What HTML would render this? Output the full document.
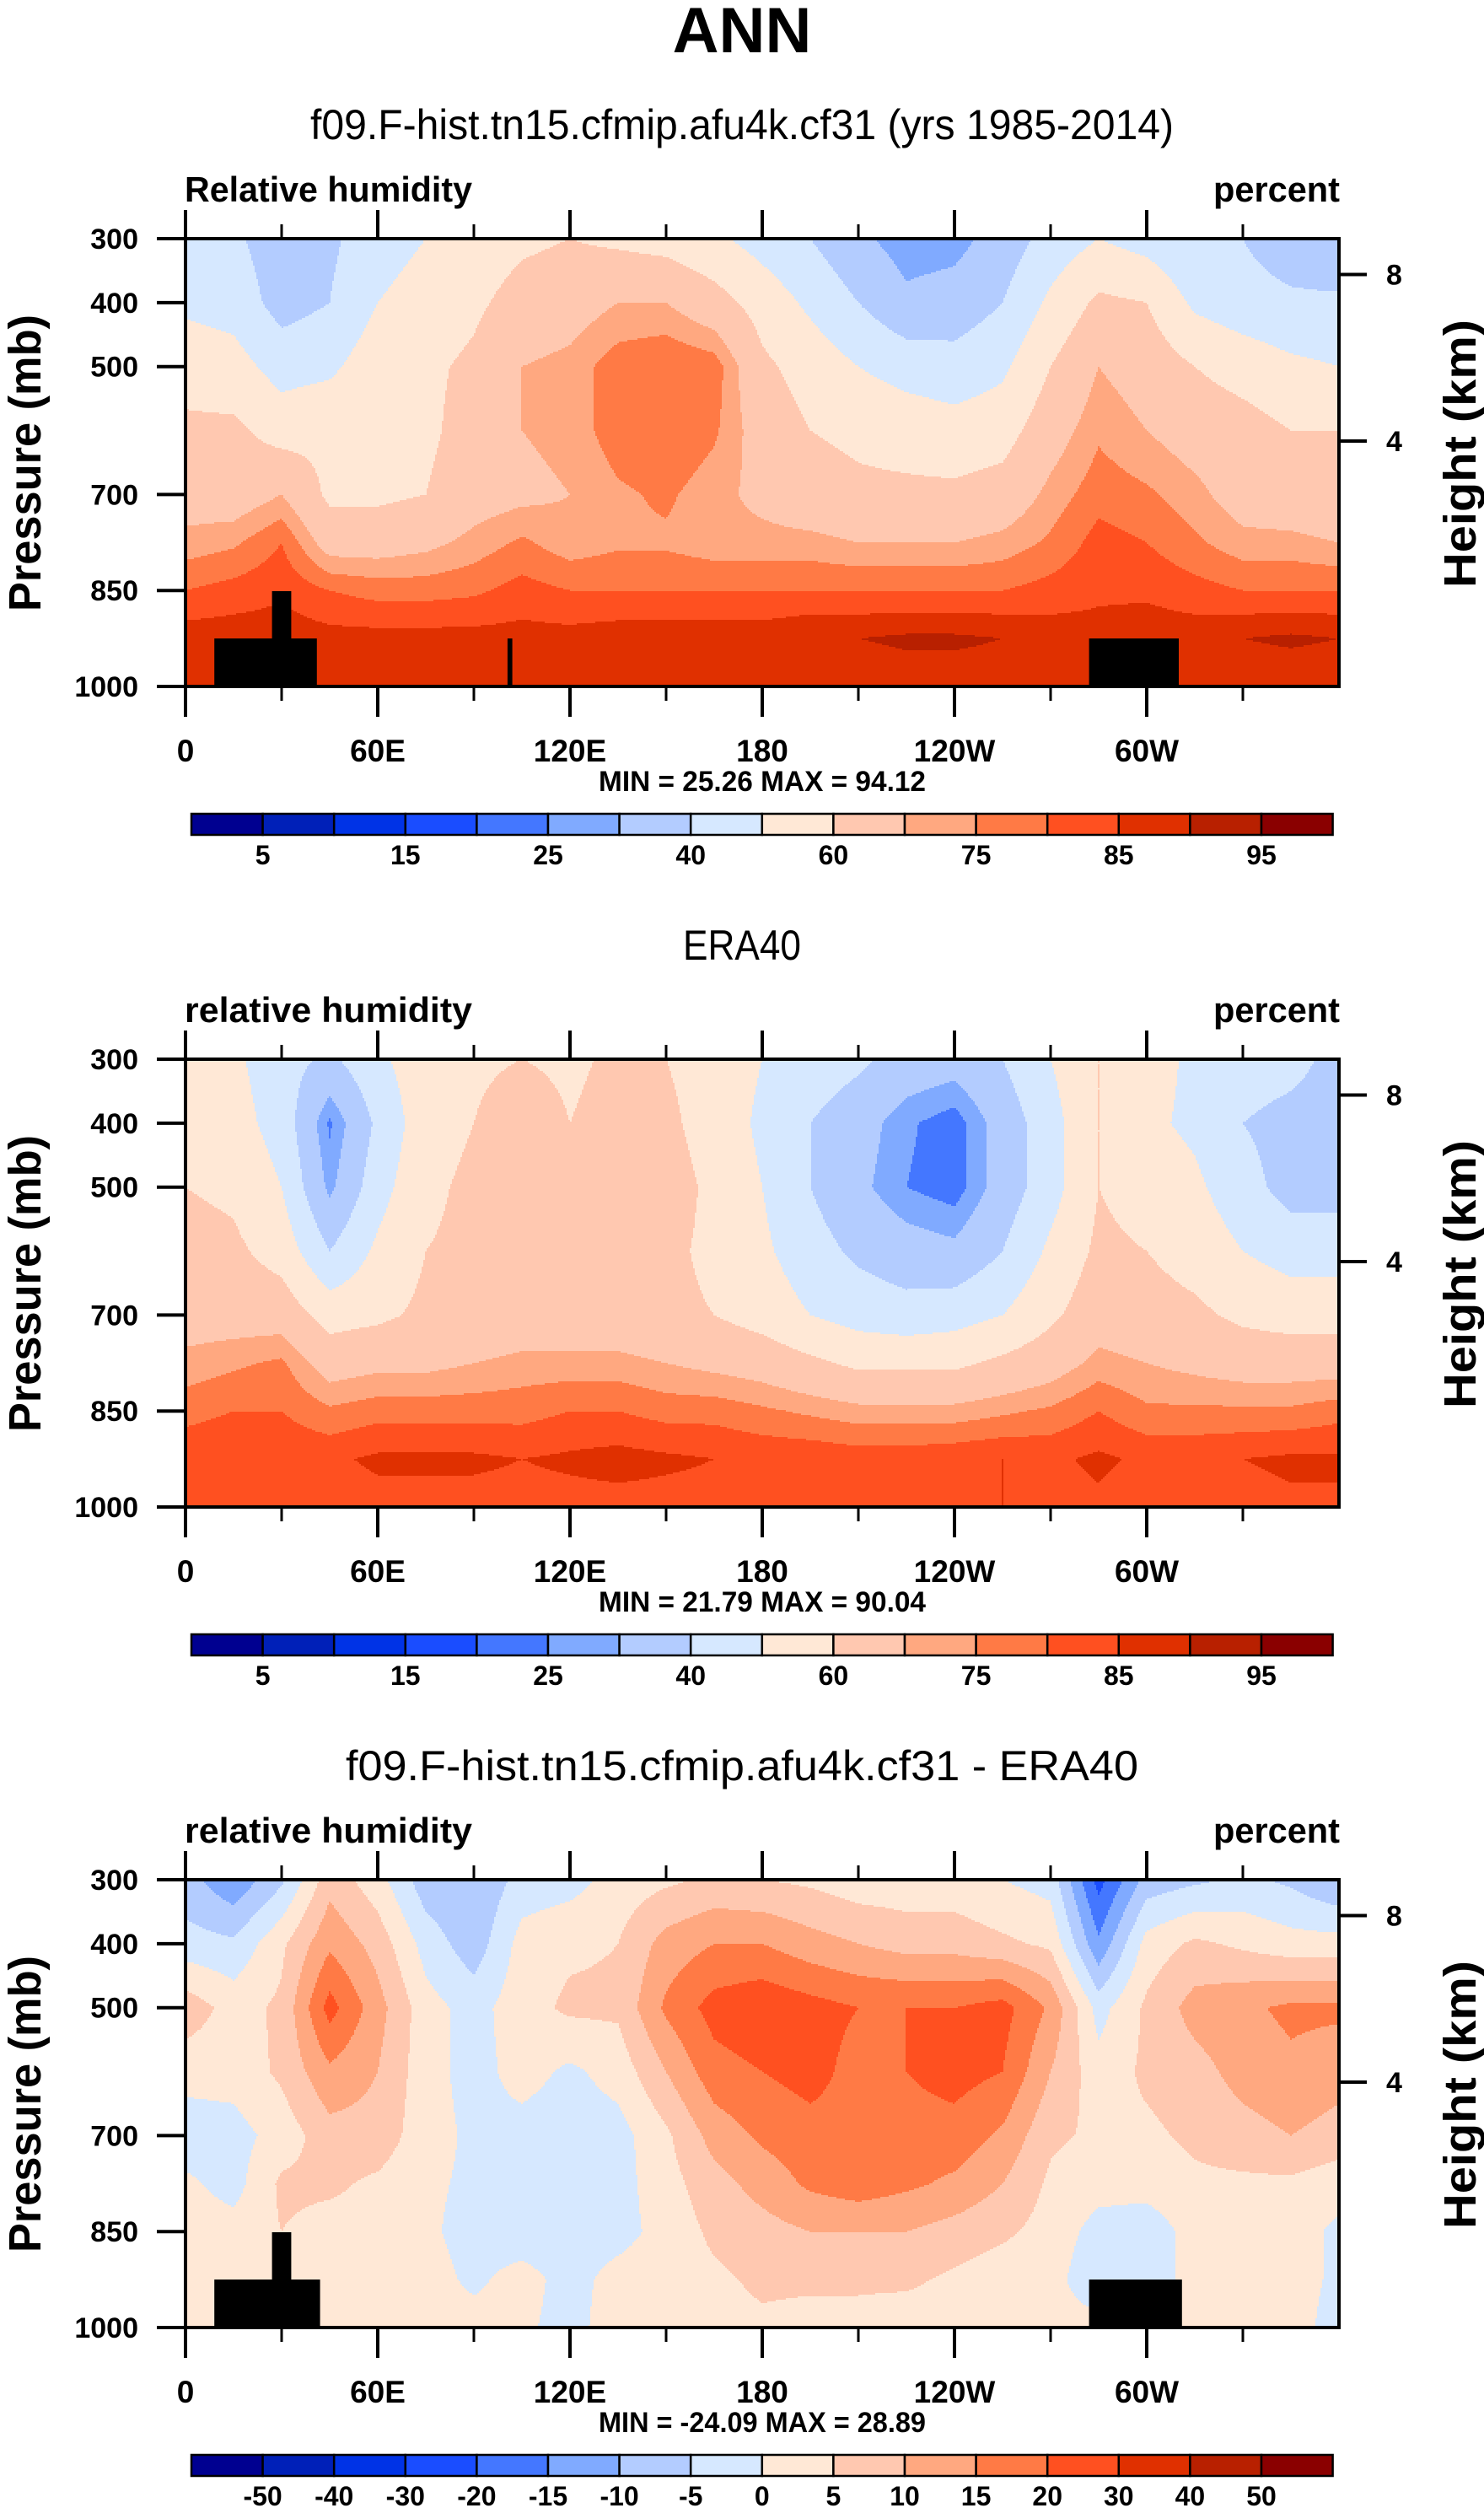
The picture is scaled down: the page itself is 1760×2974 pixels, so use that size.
<!DOCTYPE html>
<html><head><meta charset="utf-8">
<style>
html,body{margin:0;padding:0;background:#fff;}
svg{display:block;}
text{font-family:"Liberation Sans",Arial,sans-serif;fill:#000;}
.b{font-weight:bold;}
</style></head>
<body>
<svg id="fig" xmlns="http://www.w3.org/2000/svg" width="1760" height="2974" viewBox="0 0 1760 2974">
<text class="b" x="880" y="62" font-size="76" text-anchor="middle">ANN</text>
</svg>
<script>
// ---- data ----
const lons = [0,15,30,45,60,75,90,105,120,135,150,165,180,195,210,225,240,255,270,285,300,315,330,345,360];
const levels = [300,400,500,600,700,775,850,925,1000];
const modelRH = [
[44,48,56,62,66,72,80,88,85],[42,46,54,62,65,74,82,88,85],[34,36,46,56,70,80,84,88,85],[38,40,48,58,58,66,80,87,85],
[46,50,56,58,58,66,78,87,85],[50,54,58,58,60,68,78,87,85],[54,58,62,64,66,72,79,87,85],[58,64,70,70,68,76,82,87,85],
[60,66,72,72,70,72,80,87,85],[58,70,78,78,74,74,80,88,85],[56,70,80,80,76,74,80,88,85],[52,64,78,76,72,72,80,88,85],
[46,56,62,66,68,72,80,88,86],[40,48,56,60,64,72,80,90,86],[32,40,50,58,62,70,80,90,86],[26,32,46,56,62,70,80,91,87],
[27,34,44,54,62,70,80,91,87],[34,40,48,56,64,72,80,90,87],[44,52,60,66,72,76,82,88,86],[50,62,70,74,78,82,84,87,86],
[46,60,66,70,76,80,84,88,86],[40,48,60,66,72,76,82,88,86],[40,44,56,64,66,72,80,90,86],[34,42,52,60,64,72,80,91,86],
[30,42,50,60,62,70,80,90,86]];
const eraRH = [
[55,56,60,64,66,72,78,84,82],[52,54,58,62,66,74,80,85,82],[44,46,50,56,66,76,80,84,82],[38,24,28,40,56,66,76,84,82],
[48,42,46,52,58,68,78,86,83],[56,56,58,60,62,68,78,86,83],[58,60,62,62,62,70,78,86,83],[60,66,64,64,64,72,78,85,83],
[58,60,62,62,64,72,80,86,83],[62,64,66,64,64,72,80,87,83],[60,62,64,62,62,70,78,86,83],[56,56,58,58,60,68,78,85,83],
[50,48,50,52,56,66,76,84,83],[46,40,40,44,50,62,74,84,83],[42,34,32,38,46,58,72,83,83],[36,26,25,34,44,58,72,83,83],
[34,22,22,32,46,58,72,84,84],[40,34,34,40,50,62,74,85,85],[50,46,46,52,58,66,76,84,83],[60,60,60,62,66,72,80,86,84],
[54,52,56,60,64,70,76,84,82],[48,48,52,56,62,68,76,84,83],[46,40,44,50,58,66,76,85,83],[44,36,36,46,56,66,76,86,84],
[36,34,36,46,56,66,78,86,84]];
const diffRH = [
[-8,-3,8,2,-3,1,3,2,2],[-14,-4,3,2,-2,-2,2,2,1],[-6,4,6,6,2,6,5,2,2],[8,14,22,14,8,6,3,2,1],
[2,8,12,10,8,4,3,2,2],[-8,-2,2,2,2,1,1,2,2],[-10,-8,-2,-2,-1,-1,-2,-1,2],[-3,2,3,2,-2,-3,-3,2,1],
[-2,4,6,-1,-3,-3,-3,-2,-2],[2,5,6,2,-2,-2,-2,2,3],[4,12,16,10,4,3,2,3,3],[6,15,22,18,12,8,6,4,3],
[5,15,24,20,16,12,8,6,4],[4,12,22,22,18,16,10,6,3],[2,10,20,18,18,18,10,6,3],[2,8,20,20,18,16,10,6,2],
[2,8,20,22,18,14,8,4,2],[0,6,22,20,14,10,6,2,1],[-2,4,14,10,6,4,3,2,2],[-22,-14,-2,2,4,2,-2,-4,2],
[-8,2,6,6,4,2,-3,-3,1],[-6,6,12,8,6,4,2,2,2],[-4,4,14,12,8,4,2,3,2],[-6,2,16,14,10,4,2,2,2],
[-10,2,16,12,8,2,-1,-1,-2]];
const rhBounds = [5,10,15,20,25,30,40,50,60,70,75,80,85,90,95];
const rhLabels = ["5","","15","","25","","40","","60","","75","","85","","95"];
const diffBounds = [-50,-40,-30,-20,-15,-10,-5,0,5,10,15,20,30,40,50];
const diffLabels = ["-50","-40","-30","-20","-15","-10","-5","0","5","10","15","20","30","40","50"];
const palette = ["#000090","#0020b8","#0033e6","#1a4dff","#4477ff","#80aaff","#b3ccff","#d6e8ff","#ffe8d6","#ffc8b0","#ffa880","#ff7a45","#ff5020","#e03000","#b82000","#8a0000"];
const xTickLons = [0,60,120,180,240,300];
const xTickLabels = ["0","60E","120E","180","120W","60W"];
const xMinorLons = [30,90,150,210,270,330];
const pTicks = [300,400,500,700,850,1000];
const hTicks = [8,4];
// land mask rectangles: [lonStart, lonEnd, pressureTop]
const landA = [[9,41,925],[27,33,851],[100.5,102,925],[282,310,925]];
const landC = [[9,42,925],[27,33,851],[282,311,925]];
const panels = [
 {sub:"f09.F-hist.tn15.cfmip.afu4k.cf31 (yrs 1985-2014)", subW:1024, left:"Relative humidity", data:modelRH, bounds:rhBounds, labels:rhLabels, minmax:"MIN =  25.26  MAX =  94.12", land:landA},
 {sub:"ERA40", subW:140, left:"relative humidity", data:eraRH, bounds:rhBounds, labels:rhLabels, minmax:"MIN =  21.79  MAX =  90.04", land:[]},
 {sub:"f09.F-hist.tn15.cfmip.afu4k.cf31 - ERA40", subW:940, left:"relative humidity", data:diffRH, bounds:diffBounds, labels:diffLabels, minmax:"MIN = -24.09  MAX =  28.89", land:landC}
];
// ---- layout ----
const NS="http://www.w3.org/2000/svg";
const svg=document.getElementById('fig');
const X0=220,X1=1588,PH=531,OFF=973;
function xS(lon){return X0+(lon/360)*(X1-X0);}
function mk(tag,attrs,parent){const e=document.createElementNS(NS,tag);for(const k in attrs)e.setAttribute(k,attrs[k]);(parent||svg).appendChild(e);return e;}
function sample(data,lon,p){
  let i=Math.min(lons.length-2,Math.floor(lon/15));let fx=(lon-lons[i])/15;
  let j=0;while(j<levels.length-2&&p>levels[j+1])j++;
  let fy=(p-levels[j])/(levels[j+1]-levels[j]);fy=Math.max(0,Math.min(1,fy));
  const a=data[i][j],b=data[i+1][j],c=data[i][j+1],d=data[i+1][j+1];
  return (a*(1-fx)+b*fx)*(1-fy)+(c*(1-fx)+d*fx)*fy;
}
function cls(v,bounds){let k=0;while(k<bounds.length&&v>=bounds[k])k++;return k;}
panels.forEach((P,n)=>{
  const T=283+n*OFF, B=T+PH;
  const yS=p=>T+(p-300)/700*PH;
  const g=mk('g',{});
  
  
  const st=mk('text',{x:880,y:165+n*OFF,'font-size':50,'text-anchor':'middle',textLength:P.subW,lengthAdjust:'spacingAndGlyphs'},g);
  st.textContent=P.sub;
  
  
  const lt=mk('text',{x:219,y:T-44,'font-size':42,'class':'b',textLength:341,lengthAdjust:'spacingAndGlyphs'},g);
  lt.textContent=P.left;
  
  
  const ut=mk('text',{x:1589,y:T-44,'font-size':42,'class':'b','text-anchor':'end',textLength:150,lengthAdjust:'spacingAndGlyphs'},g);
  ut.textContent='percent';
  
  
  const fg=mk('g',{'shape-rendering':'crispEdges'},g);
  
  
  const step=2;
  for(let y=T;y<B;y+=step){
    const p=300+(y+step/2-T)/PH*700;
    let runStart=X0,runC=-1;
    for(let x=X0;x<=X1;x+=step){
      let c=-1;
      if(x<X1){const lon=(x+step/2-X0)/(X1-X0)*360;c=cls(sample(P.data,lon,p),P.bounds);}
      if(c!==runC){
        if(runC>=0){const r=mk('rect',{x:runStart,y:y,width:x-runStart,height:step+0.5,fill:palette[runC]},fg);
          
          }
        runStart=x;runC=c;
      }
    }
  }
  P.land.forEach(L=>{
    const r=mk('rect',{x:xS(L[0]),y:yS(L[2]),width:xS(L[1])-xS(L[0]),height:B-yS(L[2]),fill:'#000'},g);
    
    
  });
  const fr=mk('rect',{x:X0,y:T,width:X1-X0,height:PH,fill:'none',stroke:'#000','stroke-width':4},g);
  
  
  xTickLons.forEach((lon,i)=>{
    const x=xS(lon);
    const t1=mk('line',{x1:x,y1:T,x2:x,y2:T-34,stroke:'#000','stroke-width':4},g);
    
    
    const t2=mk('line',{x1:x,y1:B,x2:x,y2:B+36,stroke:'#000','stroke-width':4},g);
    
    
    const tl=mk('text',{x:x,y:B+89,'font-size':37,'class':'b','text-anchor':'middle'},g);
    tl.textContent=xTickLabels[i];
    
    
  });
  xMinorLons.forEach(lon=>{
    const x=xS(lon);
    const a=mk('line',{x1:x,y1:T,x2:x,y2:T-17,stroke:'#000','stroke-width':3},g);
    
    
    const b=mk('line',{x1:x,y1:B,x2:x,y2:B+17,stroke:'#000','stroke-width':3},g);
    
    
  });
  pTicks.forEach(p=>{
    const y=yS(p);
    const l=mk('line',{x1:186,y1:y,x2:X0,y2:y,stroke:'#000','stroke-width':4},g);
    
    
    const t=mk('text',{x:164,y:y+12,'font-size':34,'class':'b','text-anchor':'end'},g);
    t.textContent=p;
    
    
  });
  hTicks.forEach(h=>{
    const p=1013.25*Math.pow(1-h/44.33,5.255);
    const y=yS(p);
    const l=mk('line',{x1:X1,y1:y,x2:1621,y2:y,stroke:'#000','stroke-width':4},g);
    
    
    const t=mk('text',{x:1644,y:y+12,'font-size':34,'class':'b'},g);
    t.textContent=h;
    
    
  });
  const yt=mk('text',{x:0,y:0,'font-size':54,'class':'b','text-anchor':'middle',transform:`translate(48,${T+266}) rotate(-90)`,textLength:352,lengthAdjust:'spacingAndGlyphs'},g);
  yt.textContent='Pressure (mb)';
  
  
  const ht=mk('text',{x:0,y:0,'font-size':54,'class':'b','text-anchor':'middle',transform:`translate(1750,${T+255}) rotate(-90)`,textLength:318,lengthAdjust:'spacingAndGlyphs'},g);
  ht.textContent='Height (km)';
  
  
  const mm=mk('text',{x:904,y:B+124,'font-size':34,'class':'b','text-anchor':'middle',textLength:388,lengthAdjust:'spacingAndGlyphs'},g);
  mm.textContent=P.minmax;
  
  
  const cb=mk('g',{},g);
  
  
  const CX=227,CW=84.6,CY=965+n*OFF,CH=25;
  palette.forEach((col,i)=>{
    const r=mk('rect',{x:CX+i*CW,y:CY,width:CW,height:CH,fill:col,stroke:'#000','stroke-width':2.5},cb);
    
    
  });
  P.labels.forEach((lab,i)=>{
    if(!lab)return;
    const t=mk('text',{x:CX+(i+1)*CW,y:CY+60,'font-size':32,'class':'b','text-anchor':'middle'},cb);
    t.textContent=lab;
    
    
  });
});
</script>
</body></html>
